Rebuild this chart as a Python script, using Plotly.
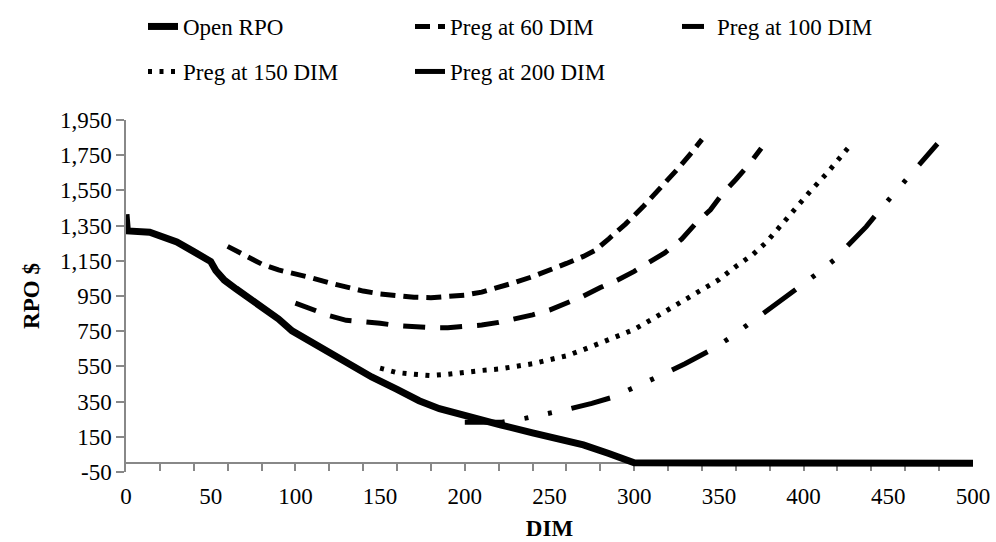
import plotly.graph_objects as go

# ---------------- data ----------------
open_dim = [0, 0.8, 14, 20, 30, 40, 50, 53, 58, 65, 73, 80, 90, 98, 105, 115, 122, 135, 145,
            160, 173, 185, 200, 210, 221, 240, 255, 270, 285, 300, 350, 400, 450, 500]
open_rpo = [1415, 1320, 1312, 1295, 1257, 1202, 1146, 1095, 1040, 990, 938, 885, 820, 752, 712,
            660, 614, 542, 490, 420, 355, 310, 268, 240, 218, 172, 140, 104, 55, 2, 1, 0, 0, 0]

p60_dim = [60, 70, 80, 90, 100, 110, 120, 130, 140, 150, 160, 170, 180, 190, 200, 210, 220, 230,
           240, 250, 260, 270, 277, 285, 295, 305, 315, 325, 333, 340]
p60_rpo = [1232, 1182, 1132, 1098, 1078, 1052, 1025, 1000, 978, 962, 950, 943, 940, 945, 955, 972,
           998, 1028, 1060, 1095, 1135, 1175, 1210, 1275, 1360, 1455, 1555, 1665, 1755, 1840]

p100_dim = [100, 110, 120, 130, 140, 150, 160, 170, 180, 190, 200, 210, 220, 230, 240, 250, 260,
            270, 280, 290, 300, 310, 318, 328, 336, 345, 352, 360, 368, 375]
p100_rpo = [910, 872, 838, 812, 805, 795, 782, 773, 770, 770, 776, 785, 800, 820, 843, 870, 910,
            950, 998, 1040, 1090, 1150, 1195, 1273, 1359, 1440, 1530, 1612, 1700, 1790]

p150_dim = [150, 160, 170, 180, 190, 200, 210, 220, 230, 240, 250, 260, 270, 280, 290, 300, 310,
            320, 330, 340, 350, 360, 370, 378, 386, 395, 404, 414, 423, 427]
p150_rpo = [540, 515, 505, 498, 505, 518, 527, 535, 550, 565, 588, 610, 645, 683, 718, 760, 815,
            870, 925, 985, 1043, 1118, 1185, 1255, 1346, 1445, 1546, 1650, 1749, 1800]

p200_dim = [200, 210, 222, 236, 250, 262, 275, 287, 298, 310, 320, 330, 339, 345, 356, 367, 378,
            390, 400, 410, 418, 427, 437, 445, 453, 461, 470, 479]
p200_rpo = [232, 232, 233, 256, 281, 309, 340, 374, 422, 472, 518, 565, 608, 642, 709, 785, 862,
            945, 1020, 1092, 1155, 1245, 1344, 1439, 1528, 1616, 1714, 1815]

y_ticks = [-50, 150, 350, 550, 750, 950, 1150, 1350, 1550, 1750, 1950]
y_labels = ["-50", "150", "350", "550", "750", "950", "1,150", "1,350", "1,550", "1,750", "1,950"]
x_ticks = [0, 50, 100, 150, 200, 250, 300, 350, 400, 450, 500]
x_labels = [str(v) for v in x_ticks]

FONT = "Liberation Serif, Times New Roman, serif"
AX = "#888888"

fig = go.Figure()
fig.add_trace(go.Scatter(x=open_dim, y=open_rpo, mode="lines", name="Open RPO",
                         line=dict(color="black", width=7), legend="legend"))
fig.add_trace(go.Scatter(x=p60_dim, y=p60_rpo, mode="lines", name="Preg at 60 DIM",
                         line=dict(color="black", width=5, dash="15px,8px"), legend="legend"))
fig.add_trace(go.Scatter(x=p100_dim, y=p100_rpo, mode="lines", name="Preg at 100 DIM",
                         line=dict(color="black", width=5, dash="22px,15px"), legend="legend"))
fig.add_trace(go.Scatter(x=p150_dim, y=p150_rpo, mode="lines", name="Preg at 150 DIM",
                         line=dict(color="black", width=5, dash="4px,7.5px"), legend="legend2"))
fig.add_trace(go.Scatter(x=p200_dim, y=p200_rpo, mode="lines", name="Preg at 200 DIM",
                         line=dict(color="black", width=5, dash="40px,20px,4px,20px,4px,20px"),
                         legend="legend2"))

leg_common = dict(orientation="h", xanchor="left", yanchor="top",
                  xref="container", yref="container", x=143 / 996,
                  font=dict(family=FONT, size=23, color="black"),
                  entrywidth=222, entrywidthmode="pixels", bgcolor="rgba(0,0,0,0)",
                  itemclick=False, itemdoubleclick=False)

fig.update_layout(
    width=996, height=542,
    margin=dict(l=126, r=23, t=120, b=70, autoexpand=False),
    paper_bgcolor="white", plot_bgcolor="white",
    font=dict(family=FONT, size=23, color="black"),
    legend=dict(y=1 - 5 / 542, **leg_common),
    legend2=dict(y=1 - 50 / 542, **leg_common),
    xaxis=dict(range=[0, 500], anchor="free", position=50 / 2000, layer="below traces",
               showline=True, linecolor=AX, linewidth=1.5, showgrid=False, zeroline=False,
               tickmode="array", tickvals=x_ticks, ticktext=x_labels,
               ticks="inside", ticklen=0, ticklabelstandoff=12,
               minor=dict(ticks="outside", ticklen=7, tickcolor=AX, tickwidth=1.5,
                          dtick=20, tick0=0, showgrid=False),
               tickfont=dict(family=FONT, size=23, color="black"),
               title=dict(text="<b>DIM</b>", font=dict(family=FONT, size=23, color="black"),
                          standoff=11),
               automargin=False),
    yaxis=dict(range=[-50, 1950], showline=True, linecolor=AX, linewidth=1.5,
               layer="below traces", showgrid=False, zeroline=False,
               tickmode="array", tickvals=y_ticks, ticktext=y_labels,
               ticks="outside", ticklen=8, tickcolor=AX, tickwidth=1.5,
               tickfont=dict(family=FONT, size=23, color="black"),
               title=dict(text="<b>RPO $</b>", font=dict(family=FONT, size=23, color="black"),
                          standoff=14),
               automargin=False),
)

fig.write_html("out.html")
